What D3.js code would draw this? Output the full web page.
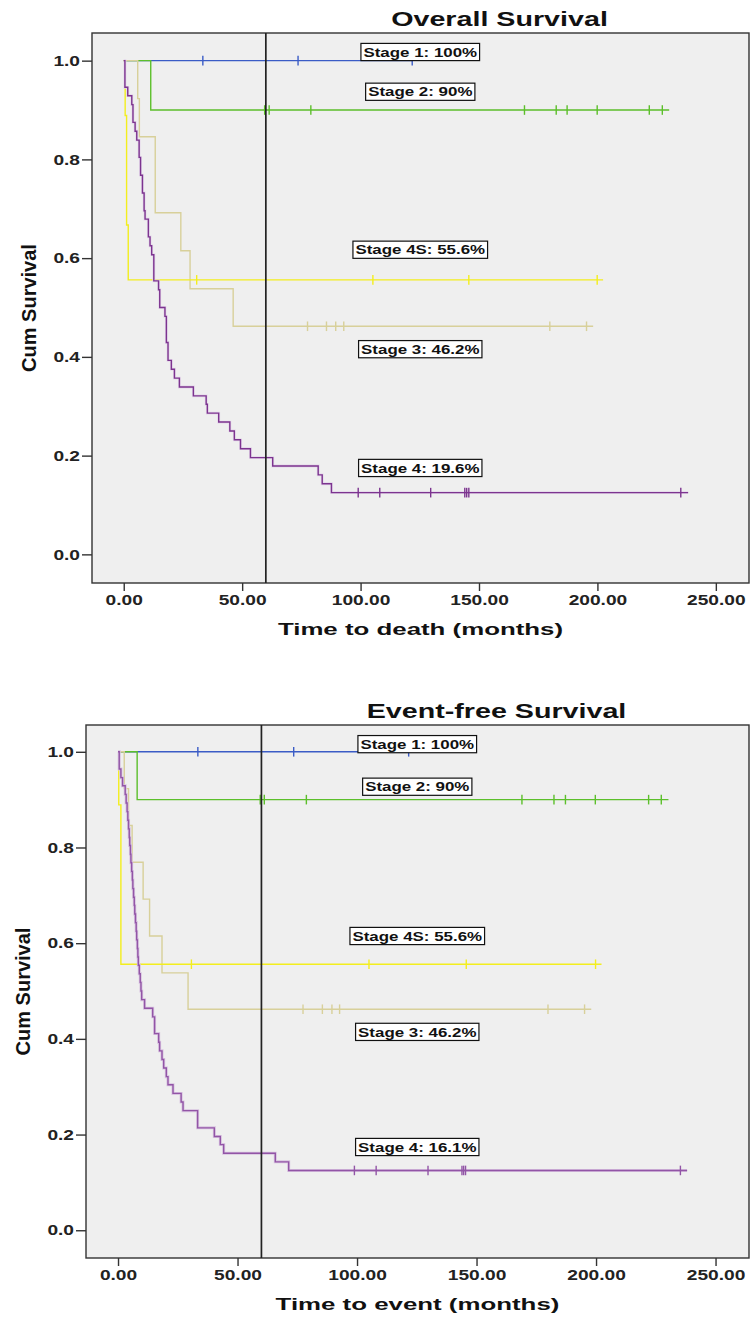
<!DOCTYPE html>
<html>
<head>
<meta charset="utf-8">
<script src="https://cdn.jsdelivr.net/npm/d3@7"></script>
<style>
  body { margin: 0; background: #fff; }
  svg { display: block; font-family: "Liberation Sans", Arial, sans-serif; }
</style>
</head>
<body>
<svg id="chart" width="752" height="1318"></svg>
<script>
// ---- axes ----
const xTicks = [0, 50, 100, 150, 200, 250];
const yTicks = [0, 0.2, 0.4, 0.6, 0.8, 1.0];
const cutoffMonths = 60;

const stageColors = {
  s1: "#3b5cc6",
  s2: "#5cbf2b",
  s3: "#d8d09a",
  s4s: "#f3ee1e",
  s4: "#7c348f"
};

// ---- overall survival (time of each drop, survival after it, censored times, last follow-up) ----
const osS1Times = [];
const osS1Surv = [];
const osS1Censor = [33.4, 73.6, 121.8];
const osS1End = 121.8;

const osS2Times = [11.4];
const osS2Surv = [0.9];
const osS2Censor = [59.5, 61.4, 79.0, 169.2, 182.6, 187.2, 199.9, 221.9, 227.4];
const osS2End = 230.3;

const osS3Times = [5.9, 6.6, 13.3, 24.1, 28.0, 46.2];
const osS3Surv = [0.923, 0.846, 0.692, 0.615, 0.538, 0.462];
const osS3Censor = [77.6, 85.6, 89.5, 92.9, 179.9, 195.4];
const osS3End = 198.2;

const osS4sTimes = [0.6, 1.2, 1.9];
const osS4sSurv = [0.889, 0.667, 0.556];
const osS4sCensor = [30.8, 105.2, 145.7, 199.9];
const osS4sEnd = 202.4;

const osS4Times = [0.5, 1.7, 3.4, 3.9, 4.8, 5.5, 6.5, 7.1, 7.9, 8.6, 9.0, 10.4, 11.1, 11.8,
  12.7, 14.7, 15.2, 17.4, 18.0, 18.7, 20.1, 21.4, 23.5, 29.4, 34.8, 35.3, 40.1, 44.8, 46.7,
  49.3, 53.5, 62.9, 82.1, 83.8, 87.7];
const osS4Surv = [0.946, 0.929, 0.911, 0.875, 0.857, 0.839, 0.804, 0.768, 0.732, 0.696,
  0.679, 0.643, 0.625, 0.607, 0.554, 0.536, 0.500, 0.482, 0.429, 0.393, 0.375, 0.357, 0.339,
  0.321, 0.304, 0.286, 0.268, 0.250, 0.232, 0.214, 0.196, 0.179, 0.161, 0.143, 0.125];
const osS4Censor = [99.0, 108.1, 129.6, 144.0, 144.8, 145.7, 235.2];
const osS4End = 238.3;

const osLabels = ["Stage 1: 100%", "Stage 2: 90%", "Stage 4S: 55.6%", "Stage 3: 46.2%", "Stage 4: 19.6%"];

// ---- event-free survival ----
const efsS1Times = [];
const efsS1Surv = [];
const efsS1Censor = [33.4, 73.5, 121.6];
const efsS1End = 121.6;

const efsS2Times = [8.0];
const efsS2Surv = [0.9];
const efsS2Censor = [59.5, 61.2, 78.8, 169.0, 182.4, 187.2, 199.7, 222.0, 227.3];
const efsS2End = 230.3;

const efsS3Times = [2.6, 4.4, 5.9, 10.5, 13.2, 18.4, 29.3];
const efsS3Surv = [0.923, 0.846, 0.769, 0.692, 0.615, 0.538, 0.462];
const efsS3Censor = [77.4, 85.5, 89.5, 92.7, 179.9, 195.2];
const efsS3End = 198.0;

const efsS4sTimes = [0.3, 1.2];
const efsS4sSurv = [0.889, 0.556];
const efsS4sCensor = [30.7, 105.0, 145.7, 199.8];
const efsS4sEnd = 202.3;

const efsS4Times = [0.5, 1.2, 1.9, 3.0, 3.4, 3.8, 4.1, 4.4, 4.7, 4.9, 5.2, 5.4, 5.7, 6.0, 6.2,
  6.5, 6.8, 7.0, 7.3, 7.6, 7.8, 8.1, 8.3, 8.5, 8.9, 9.3, 9.6, 9.9, 11.1, 14.5, 15.3, 17.0,
  17.4, 18.4, 19.1, 20.2, 20.9, 23.0, 26.4, 27.2, 33.3, 40.3, 42.8, 44.2, 65.8, 71.4];
const efsS4Surv = [0.964, 0.946, 0.929, 0.911, 0.893, 0.875, 0.857, 0.839, 0.821, 0.804,
  0.786, 0.768, 0.750, 0.732, 0.714, 0.696, 0.679, 0.661, 0.643, 0.625, 0.607, 0.589, 0.571,
  0.554, 0.536, 0.518, 0.500, 0.482, 0.464, 0.446, 0.411, 0.393, 0.375, 0.357, 0.339, 0.321,
  0.304, 0.286, 0.268, 0.250, 0.214, 0.196, 0.179, 0.161, 0.143, 0.125];
const efsS4Censor = [98.9, 108.0, 129.7, 143.9, 144.6, 145.4, 235.3];
const efsS4End = 238.1;

const efsLabels = ["Stage 1: 100%", "Stage 2: 90%", "Stage 4S: 55.6%", "Stage 3: 46.2%", "Stage 4: 16.1%"];

// ---- layout ----
const xDomain = [-13.4, 264];
const yDomain = [-0.058, 1.056];
const labelMonth = 125.2;

const panels = [
  {
    title: "Overall Survival",
    xTitle: "Time to death (months)",
    frame: { left: 92, top: 33, right: 749, bottom: 583 },
    labels: osLabels,
    labelSurv: [1.0175, 0.937, 0.617, 0.4156, 0.175],
    halo: "#e4d6ea",
    haloWidth: 2.8,
    series: [
      { color: stageColors.s1, times: osS1Times, surv: osS1Surv, censor: osS1Censor, end: osS1End },
      { color: stageColors.s2, times: osS2Times, surv: osS2Surv, censor: osS2Censor, end: osS2End },
      { color: stageColors.s3, times: osS3Times, surv: osS3Surv, censor: osS3Censor, end: osS3End },
      { color: stageColors.s4s, times: osS4sTimes, surv: osS4sSurv, censor: osS4sCensor, end: osS4sEnd },
      { color: stageColors.s4, times: osS4Times, surv: osS4Surv, censor: osS4Censor, end: osS4End, halo: true }
    ]
  },
  {
    title: "Event-free Survival",
    xTitle: "Time to event (months)",
    frame: { left: 86, top: 725, right: 749, bottom: 1258 },
    labels: efsLabels,
    labelSurv: [1.016, 0.927, 0.615, 0.4146, 0.174],
    halo: "#d8c3e0",
    haloWidth: 3.0,
    series: [
      { color: stageColors.s1, times: efsS1Times, surv: efsS1Surv, censor: efsS1Censor, end: efsS1End },
      { color: stageColors.s2, times: efsS2Times, surv: efsS2Surv, censor: efsS2Censor, end: efsS2End },
      { color: stageColors.s3, times: efsS3Times, surv: efsS3Surv, censor: efsS3Censor, end: efsS3End },
      { color: stageColors.s4s, times: efsS4sTimes, surv: efsS4sSurv, censor: efsS4sCensor, end: efsS4sEnd },
      { color: "#9255a6", times: efsS4Times, surv: efsS4Surv, censor: efsS4Censor, end: efsS4End, halo: true }
    ]
  }
];

const svg = d3.select("#chart");

// SPSS output here is rendered wide, so stretch text horizontally
function stretch(selection, k) {
  selection.each(function () {
    const w = this.getComputedTextLength();
    d3.select(this).attr("textLength", w * k).attr("lengthAdjust", "spacingAndGlyphs");
  });
}

function survAt(s, t) {
  let v = 1;
  s.times.forEach((tt, i) => { if (tt <= t) v = s.surv[i]; });
  return v;
}

panels.forEach((p) => {
  const f = p.frame;
  const x = d3.scaleLinear().domain(xDomain).range([f.left, f.right]);
  const y = d3.scaleLinear().domain(yDomain).range([f.bottom, f.top]);
  const g = svg.append("g");

  g.append("rect")
    .attr("x", f.left).attr("y", f.top)
    .attr("width", f.right - f.left).attr("height", f.bottom - f.top)
    .attr("fill", "#efefef")
    .attr("stroke", "#333").attr("stroke-width", 1.4);

  const yAxis = g.append("g")
    .attr("transform", `translate(${f.left},0)`)
    .call(d3.axisLeft(y).tickValues(yTicks).tickFormat(d3.format(".1f")).tickSize(10).tickPadding(2));
  const xAxis = g.append("g")
    .attr("transform", `translate(0,${f.bottom})`)
    .call(d3.axisBottom(x).tickValues(xTicks).tickFormat(d3.format(".2f")).tickSize(8).tickPadding(4));

  [yAxis, xAxis].forEach((a) => {
    a.select(".domain").remove();
    a.selectAll(".tick line").attr("stroke", "#333").attr("stroke-width", 1.4);
    a.selectAll(".tick text")
      .attr("fill", "#222")
      .style("font-family", "'Liberation Sans', Arial, sans-serif")
      .style("font-size", "14.5px")
      .style("font-weight", "bold")
      .call(stretch, 1.32);
  });

  const line = d3.line()
    .x((d) => x(d[0]))
    .y((d) => y(d[1]))
    .curve(d3.curveStepAfter);

  p.series.forEach((s) => {
    const pts = [[0, 1]].concat(s.times.map((t, i) => [t, s.surv[i]]));
    pts.push([s.end, pts[pts.length - 1][1]]);
    const sg = g.append("g");
    if (s.halo) {
      sg.append("path").attr("d", line(pts))
        .attr("fill", "none").attr("stroke", p.halo).attr("stroke-width", p.haloWidth);
    }
    sg.append("path").attr("d", line(pts))
      .attr("fill", "none").attr("stroke", s.color).attr("stroke-width", 1.4);
    sg.selectAll("line.censor")
      .data(s.censor)
      .join("line")
      .attr("class", "censor")
      .attr("x1", (t) => x(t)).attr("x2", (t) => x(t))
      .attr("y1", (t) => y(survAt(s, t)) - 4.8)
      .attr("y2", (t) => y(survAt(s, t)) + 4.8)
      .attr("stroke", s.color).attr("stroke-width", 1.4);
  });

  // 60-month reference line
  g.append("line")
    .attr("x1", x(cutoffMonths)).attr("x2", x(cutoffMonths))
    .attr("y1", f.top).attr("y2", f.bottom)
    .attr("stroke", "#222").attr("stroke-width", 1.7);

  // stage annotations
  p.labels.forEach((txt, i) => {
    const lg = g.append("g")
      .attr("transform", `translate(${x(labelMonth)},${y(p.labelSurv[i])})`);
    const rect = lg.append("rect");
    const t = lg.append("text")
      .attr("text-anchor", "middle")
      .attr("dy", "0.36em")
      .attr("font-size", 13)
      .attr("font-weight", "bold")
      .attr("fill", "#111")
      .text(txt)
      .call(stretch, 1.3);
    const w = +t.attr("textLength") + 5;
    rect.attr("x", -w / 2).attr("y", -8.6).attr("width", w).attr("height", 17.2)
      .attr("fill", "#fff").attr("stroke", "#111").attr("stroke-width", 1.2);
  });

  const cx = (f.left + f.right) / 2;

  g.append("text")
    .attr("x", cx + 79).attr("y", f.top - 7)
    .attr("text-anchor", "middle")
    .attr("font-size", 19.5)
    .attr("font-weight", "bold")
    .attr("fill", "#111")
    .text(p.title)
    .call(stretch, 1.47);

  g.append("text")
    .attr("x", cx).attr("y", f.bottom + 52)
    .attr("text-anchor", "middle")
    .attr("font-size", 17)
    .attr("font-weight", "bold")
    .attr("fill", "#111")
    .text(p.xTitle)
    .call(stretch, 1.52);

  g.append("text")
    .attr("transform", `translate(${f.left - 56},${(f.top + f.bottom) / 2}) rotate(-90)`)
    .attr("text-anchor", "middle")
    .attr("font-size", 20)
    .attr("font-weight", "bold")
    .attr("fill", "#111")
    .text("Cum Survival");
});
</script>
</body>
</html>
